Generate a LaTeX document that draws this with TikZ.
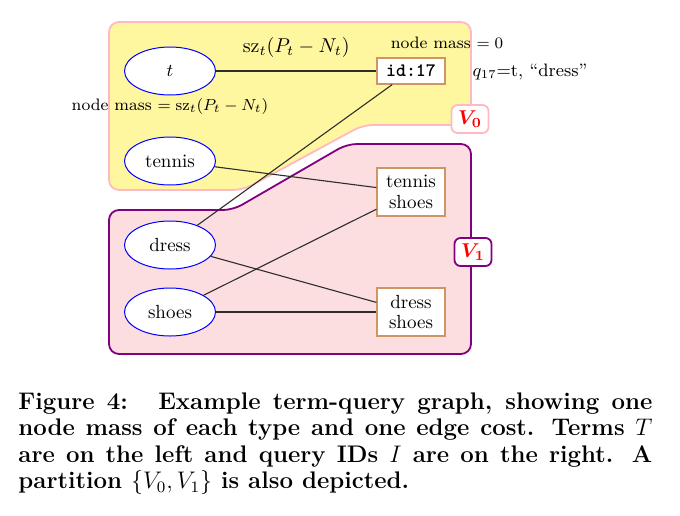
\documentclass[tikz,border=0pt]{standalone}
\usepackage{bm}
\usetikzlibrary{shapes.geometric}
\definecolor{yfill}{RGB}{255,247,160}
\definecolor{yborder}{RGB}{255,185,195}
\definecolor{pfill}{RGB}{253,222,224}
\definecolor{pborder}{RGB}{128,0,128}
\definecolor{rborder}{RGB}{205,150,100}
\definecolor{edgec}{RGB}{45,45,45}
\begin{document}
\begin{tikzpicture}[x=0.5pt,y=-0.5pt,
  term/.style={ellipse, draw=blue, line width=0.5pt, fill=white,
    minimum width=45.5pt, minimum height=24pt, inner sep=0pt,
    font=\fontsize{9.5}{10.3}\selectfont},
  qid/.style={rectangle, draw=rborder, line width=0.6pt, fill=white,
    minimum width=34pt, inner sep=1pt, align=center,
    font=\fontsize{9.5}{10.3}\selectfont},
  conn/.style={draw=edgec, line width=0.55pt},
  part/.style={rounded corners=5pt, line width=0.9pt},
  plabel/.style={rectangle, rounded corners=3pt, fill=white, line width=0.9pt,
    inner sep=1pt, minimum width=18.5pt, minimum height=14pt, text=red},
  ann/.style={font=\small},
  massann/.style={font=\fontsize{8.3}{10}\selectfont}]
\useasboundingbox (0,0) rectangle (680,515);
% partitions
\path[part, fill=yfill, draw=yborder] (109,100) -- (109,22) -- (471,22) -- (471,125)
  -- (363,125) -- (243,190) -- (109,190) -- cycle;
\path[part, fill=pfill, draw=pborder] (109,280) -- (109,210) -- (233,210) -- (347,144)
  -- (471,144) -- (471,354) -- (109,354) -- cycle;
% nodes
\node[term] (t) at (170,71) {$t$};
\node[term] (tennis) at (170,161) {tennis};
\node[term] (dress) at (170,245) {dress};
\node[term] (shoes) at (170,312) {shoes};
\node[qid, minimum height=13pt] (id17) at (411,71) {\texttt{\bfseries id:17}};
\node[qid, minimum height=24pt] (ts) at (411,192) {tennis\\shoes};
\node[qid, minimum height=24pt] (ds) at (411,312) {dress\\shoes};
% edges
\draw[conn] (t) -- node[midway, yshift=12pt] (cost) {$\mathrm{sz}_t(P_t-N_t)$} (id17);
\draw[conn] (id17) -- (dress);
\draw[conn] (tennis) -- (ts);
\draw[conn] (dress) -- (ds);
\draw[conn] (shoes) -- (ts);
\draw[conn] (shoes) -- (ds);
% annotations
\node[massann] (massT) at (170,106) {node mass $=\mathrm{sz}_t(P_t-N_t)$};
\node[massann] (massI) at (447,43) {node mass $=0$};
\node[ann] (q17) at (530,72) {$q_{17}$=t, ``dress''};
\node[plabel, draw=yborder] (V0) at (470,119) {$\bm{V_0}$};
\node[plabel, draw=pborder] (V1) at (473,252) {$\bm{V_1}$};
% caption
\node[anchor=base west, inner sep=0pt, text width=317pt, align=justify,
  font=\fontsize{12}{13.3}\selectfont\bfseries] (cap) at (18,409)
  {Figure 4:\hspace{0.5em} Example term-query graph, showing one\linebreak
   node mass of each type and one edge cost. Terms $T$\linebreak
   are on the left and query IDs $I$ are on the right. A\linebreak
   partition $\{V_0, V_1\}$ is also depicted.};
\end{tikzpicture}
\end{document}
